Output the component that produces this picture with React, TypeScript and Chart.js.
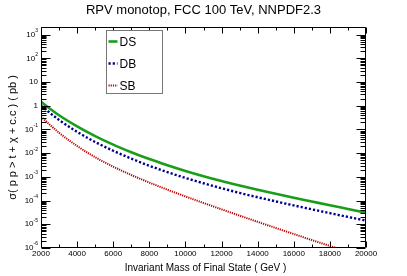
import { useEffect, useRef } from "react";
import { Chart, registerables } from "chart.js";

Chart.register(...registerables);

const masses = [2000, 3000, 4000, 5000, 6000, 7000, 8000, 9000, 10000, 11000, 12000, 13000, 14000, 15000, 16000, 17000, 18000, 19000, 20000];
const dsValues = [1.45, 0.398, 0.135, 0.0525, 0.0229, 0.011, 0.00562, 0.00309, 0.00178, 0.00107, 6.68e-4, 4.32e-4, 2.85e-4, 1.93e-4, 1.32e-4, 9.12e-5, 6.31e-5, 4.42e-5, 3.09e-5];
const dbValues = [1.0, 0.251, 0.0794, 0.0295, 0.0126, 0.00589, 0.00295, 0.00158, 9.02e-4, 5.37e-4, 3.31e-4, 2.11e-4, 1.38e-4, 9.23e-5, 6.24e-5, 4.27e-5, 2.95e-5, 2.04e-5, 1.43e-5];
const sbValues = [0.347, 0.0724, 0.02, 0.00676, 0.00269, 0.0012, 5.75e-4, 2.88e-4, 1.5e-4, 7.94e-5, 4.27e-5, 2.32e-5, 1.27e-5, 7.0e-6, 3.89e-6, 2.16e-6, 1.22e-6, 6.8e-7, 3.8e-7];

const xTickValues = [2000, 4000, 6000, 8000, 10000, 12000, 14000, 16000, 18000, 20000];
const xMinorStep = 1000;
const yExponents = [3, 2, 1, 0, -1, -2, -3, -4, -5, -6];

const titleText = "RPV monotop, FCC 100 TeV, NNPDF2.3";
const xTitle = "Invariant Mass of Final State ( GeV )";
const yTitle = "σ( p p > t + χ + c.c ) ( pb )";

const FONT = "'Liberation Sans', Arial, Helvetica, sans-serif";

const framePlugin = {
  id: "rootFrame",
  beforeDraw(chart: any) {
    const ctx = chart.ctx;
    ctx.save();
    ctx.fillStyle = "#ffffff";
    ctx.fillRect(0, 0, chart.width, chart.height);
    ctx.restore();
  },
  afterDraw(chart: any) {
    const ctx: CanvasRenderingContext2D = chart.ctx;
    const { left, right, top, bottom } = chart.chartArea;
    const xs = chart.scales.x;
    const ys = chart.scales.y;
    const L = Math.round(left) + 0.5;
    const R = Math.round(right) - 0.5;
    const T = Math.round(top) + 0.5;
    const B = Math.round(bottom) - 0.5;
    ctx.save();
    ctx.strokeStyle = "#000";
    ctx.lineWidth = 1;
    ctx.setLineDash([]);
    ctx.beginPath();
    ctx.rect(L, T, R - L, B - T);
    ctx.stroke();

    // x ticks
    ctx.beginPath();
    for (let m = xs.min; m <= xs.max + 1e-6; m += xMinorStep) {
      const px = Math.round(xs.getPixelForValue(m)) + 0.5;
      const major = xTickValues.includes(m);
      const len = major ? 6 : 3;
      ctx.moveTo(px, B);
      ctx.lineTo(px, B - len);
      ctx.moveTo(px, T);
      ctx.lineTo(px, T + len);
    }
    // y ticks
    for (const e of yExponents) {
      for (let k = 1; k <= 9; k++) {
        const v = k * Math.pow(10, e);
        if (v < ys.min * 0.999 || v > ys.max) continue;
        const py = Math.round(ys.getPixelForValue(v)) + 0.5;
        const len = k === 1 ? 9 : 5;
        ctx.moveTo(L, py);
        ctx.lineTo(L + len, py);
        ctx.moveTo(R, py);
        ctx.lineTo(R - len, py);
      }
    }
    ctx.stroke();

    // x labels
    ctx.fillStyle = "#000";
    ctx.font = `8px ${FONT}`;
    ctx.textAlign = "center";
    ctx.textBaseline = "top";
    for (const m of xTickValues) {
      ctx.fillText(String(m), xs.getPixelForValue(m), bottom + 2);
    }

    // y labels
    for (const e of yExponents) {
      const py = ys.getPixelForValue(Math.pow(10, e));
      const xr = left - 3;
      ctx.textBaseline = "middle";
      if (e === 0 || e === 1) {
        ctx.font = `8px ${FONT}`;
        ctx.textAlign = "right";
        ctx.fillText(e === 0 ? "1" : "10", xr, py);
      } else {
        const sup = String(e);
        ctx.font = `5px ${FONT}`;
        const sw = ctx.measureText(sup).width;
        ctx.textAlign = "left";
        ctx.fillText(sup, xr - sw, py - 4);
        ctx.font = `8px ${FONT}`;
        ctx.textAlign = "right";
        ctx.fillText("10", xr - sw, py);
      }
    }

    // title
    ctx.font = `13px ${FONT}`;
    ctx.textAlign = "center";
    ctx.textBaseline = "middle";
    ctx.fillText(titleText, chart.width / 2, 10);

    // x title
    ctx.font = `10px ${FONT}`;
    ctx.fillText(xTitle, (left + right) / 2 + 2, bottom + 20);

    // y title
    ctx.save();
    ctx.translate(13, (top + bottom) / 2 + 0);
    ctx.rotate(-Math.PI / 2);
    ctx.font = `11px ${FONT}`;
    ctx.fillText(yTitle, 0, 0);
    ctx.restore();

    // legend
    const bx = Math.round(left) + 65 + 0.5;
    const by = Math.round(top) + 3 + 0.5;
    const bw = 56;
    const bh = 63;
    ctx.fillStyle = "#fff";
    ctx.fillRect(bx, by, bw, bh);
    ctx.strokeStyle = "#777";
    ctx.lineWidth = 1;
    ctx.strokeRect(bx, by, bw, bh);
    chart.data.datasets.forEach((ds: any, i: number) => {
      const cy = by + 11 + i * 22;
      ctx.save();
      ctx.strokeStyle = ds.borderColor;
      ctx.lineWidth = ds.borderWidth;
      ctx.setLineDash(ds.borderDash || []);
      ctx.beginPath();
      ctx.moveTo(bx + 2, cy);
      ctx.lineTo(bx + 11, cy);
      ctx.stroke();
      ctx.restore();
      ctx.fillStyle = "#000";
      ctx.font = `12px ${FONT}`;
      ctx.textAlign = "left";
      ctx.textBaseline = "middle";
      ctx.fillText(ds.label, bx + 13, cy + 1);
    });
    ctx.restore();
  },
};

export default function App() {
  const canvasRef = useRef<HTMLCanvasElement | null>(null);
  useEffect(() => {
    if (!canvasRef.current) return;
    const chart = new Chart(canvasRef.current, {
      type: "line",
      data: {
        datasets: [
          {
            label: "DS",
            data: masses.map((m, i) => ({ x: m, y: dsValues[i] })),
            borderColor: "#1a9e1a",
            borderWidth: 2.6,
            pointRadius: 0,
            cubicInterpolationMode: "monotone",
          },
          {
            label: "DB",
            data: masses.map((m, i) => ({ x: m, y: dbValues[i] })),
            borderColor: "#00008f",
            borderWidth: 2.4,
            borderDash: [2.2, 2],
            pointRadius: 0,
            cubicInterpolationMode: "monotone",
          },
          {
            label: "SB",
            data: masses.map((m, i) => ({ x: m, y: sbValues[i] })),
            borderColor: "#c00000",
            borderWidth: 2,
            borderDash: [1.2, 1],
            pointRadius: 0,
            cubicInterpolationMode: "monotone",
          },
        ],
      },
      options: {
        responsive: false,
        animation: false,
        layout: { padding: { left: 41, right: 41, top: 27, bottom: 28 } },
        plugins: { legend: { display: false }, tooltip: { enabled: false }, title: { display: false } },
        scales: {
          x: { type: "linear", min: 2000, max: 20000, display: false },
          y: { type: "logarithmic", min: 1e-6, max: 2090, display: false },
        },
      },
      plugins: [framePlugin],
    });
    return () => chart.destroy();
  }, []);
  return (
    <div style={{ position: "absolute", left: 0, top: 0, width: 407, height: 276 }}>
      <canvas ref={canvasRef} width={407} height={276} style={{ width: 407, height: 276 }} />
    </div>
  );
}
